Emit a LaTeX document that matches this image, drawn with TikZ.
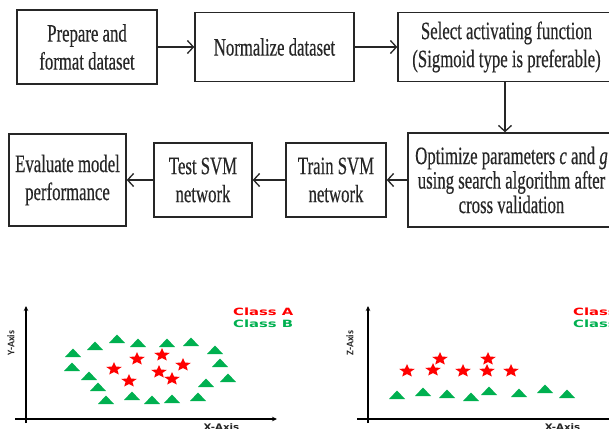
\documentclass[tikz,border=0pt]{standalone}
\usepackage{fontspec}
\setmainfont{Liberation Serif}[FakeStretch=0.67,FakeBold=0.4]
\newfontfamily\clsfont{DejaVu Sans}
\newfontfamily\axfont{Carlito}
\usetikzlibrary{arrows.meta}
\definecolor{cgreen}{RGB}{0,176,80}
\definecolor{cred}{RGB}{255,0,0}
\definecolor{ink}{RGB}{38,38,38}
\tikzset{
  box/.style={draw=ink, line width=1.4pt, text=ink, align=center, inner sep=0pt,
    font=\fontsize{25}{28}\selectfont},
  flow/.style={draw=ink, line width=1.3pt, -{Straight Barb[length=6pt,width=13pt]}},
  axisline/.style={draw=black, line width=1.2pt, -{Stealth[length=5pt,width=4.5pt]}},
  clslabel/.style={anchor=west, inner sep=0pt, font=\clsfont\bfseries\fontsize{10}{10}\selectfont},
  axlabel/.style={inner sep=0pt, text=ink, font=\clsfont\bfseries\fontsize{9}{9}\selectfont},
  sidelabel/.style={inner sep=0pt, text=ink, rotate=90, font=\axfont\bfseries\fontsize{10}{10}\selectfont},
  tri/.pic={\fill[cgreen] (-8,4) -- (8,4) -- (0,-4.5) -- cycle;},
  starmark/.pic={\fill[cred,xscale=1.2] (90:6.8pt) -- (126:3pt) -- (162:6.8pt) -- (198:3pt)
     -- (234:6.8pt) -- (270:3pt) -- (306:6.8pt) -- (342:3pt) -- (18:6.8pt) -- (54:3pt) -- cycle;}
}
\begin{document}
\begin{tikzpicture}[x=1pt,y=-1pt]
\clip (0,0) rectangle (609,428);
\fill[white] (0,0) rectangle (609,428);

% flowchart
\node[box, minimum width=140, minimum height=74] (prep) at (87,47) {Prepare and\\format dataset};
\node[box, minimum width=159, minimum height=69] (norm) at (274.5,47) {Normalize dataset};
\node[box, minimum width=217, minimum height=69] (sel) at (506.5,47) {Select activating function\\(Sigmoid type is preferable)};
\node[box, minimum width=207, minimum height=94, font=\fontsize{25}{24.5}\selectfont] (opt) at (511.5,180)
  {Optimize parameters \textit{c} and \textit{g}\\using search algorithm after\\cross validation};
\node[box, minimum width=100, minimum height=74] (train) at (336,180) {Train SVM\\network};
\node[box, minimum width=98, minimum height=74] (test) at (203,180) {Test SVM\\network};
\node[box, minimum width=117, minimum height=92] (eval) at (67.5,180) {Evaluate model\\performance};

\draw[flow] (prep) -- (norm);
\draw[flow] (norm) -- (sel);
\draw[flow] ([xshift=-1.5pt]sel.south) -- ([xshift=-1.5pt]sel.south |- opt.north);
\draw[flow] (opt) -- (train);
\draw[flow] (train) -- (test);
\draw[flow] (test) -- (eval);

% plot 1
\coordinate (y1a) at (26,423);
\coordinate (y1b) at (26,306);
\coordinate (x1a) at (15,419);
\coordinate (x1b) at (277,419);
\draw[axisline] (y1a) -- (y1b);
\draw[axisline] (x1a) -- (x1b);
\node[sidelabel] (ylab) at (11,343) {Y-Axis};
\node[axlabel, anchor=north] (xlab1) at (221.5,423) {\scalebox{1.14}[1]{X-Axis}};
\node[clslabel, text=cred] (ca1) at (233,312) {\scalebox{1.48}[1]{Class A}};
\node[clslabel, text=cgreen] (cb1) at (233,324) {\scalebox{1.48}[1]{Class B}};
\foreach \x/\y in {73/353,95/346,117/339,138/343,167/343,191/342,215/350,72/367,89/376,
  220/363,228/378,98/387,206/383,106/400,132/396,152/400,172/399,198/397}
  \pic at (\x,\y) {tri};
\foreach \x/\y in {137/359,162/355,114/369,183/365,159/372,129/381,172/379}
  \pic at (\x,\y) {starmark};

% plot 2
\coordinate (z2a) at (368,423);
\coordinate (z2b) at (368,306);
\coordinate (x2a) at (357,419);
\coordinate (x2b) at (640,419);
\draw[axisline] (z2a) -- (z2b);
\draw[axisline] (x2a) -- (x2b);
\node[sidelabel] (zlab) at (350,343) {Z-Axis};
\node[axlabel, anchor=north] (xlab2) at (562.5,423) {\scalebox{1.14}[1]{X-Axis}};
\node[clslabel, text=cred] (ca2) at (573,312) {\scalebox{1.48}[1]{Class A}};
\node[clslabel, text=cgreen] (cb2) at (573,324) {\scalebox{1.48}[1]{Class B}};
\foreach \x/\y in {397/395,423/392,447/394,471/397,489/391,519/393,545/389,567/394}
  \pic at (\x,\y) {tri};
\foreach \x/\y in {407/371,433/370,440/359,463/371,487/371,488/359,511/371}
  \pic at (\x,\y) {starmark};
\end{tikzpicture}
\end{document}
